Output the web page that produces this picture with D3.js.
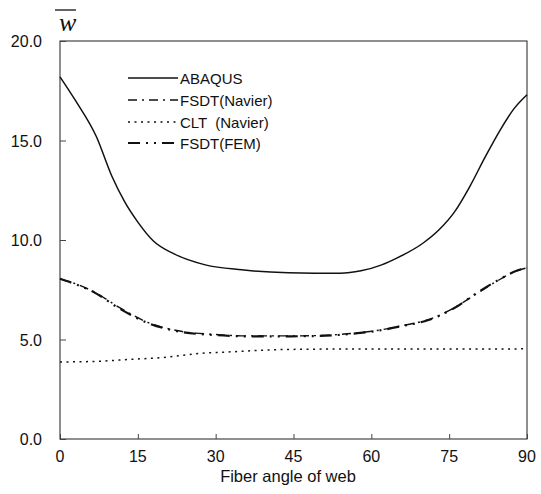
<html>
<head>
  <meta charset="utf-8">
  <title>Deflection vs fiber angle of web</title>
  <script type="text/javascript" src="https://d3js.org/d3.v7.min.js"></script>
</head>
<style type="text/css">
  html, body { margin:0; padding:0; background:#fff; overflow:hidden }
  text { font-family: "Liberation Sans", Arial, sans-serif; fill:#111; }
  text.wlabel { font-family: "Liberation Serif", "DejaVu Serif", serif; font-style: italic; }
</style>
<body>
  <svg width="541" height="494"></svg>
  <script>
    // values
    const angleTicks = [0, 15, 30, 45, 60, 75, 90];
    const wTicks = [0, 5, 10, 15, 20];

    const abaqusAngle = [0, 3, 7, 10, 12.5, 15, 18, 22, 28, 35, 44, 49, 54, 58, 62, 65, 70, 73, 76, 79, 82, 85, 87.5, 90];
    const abaqusW = [18.2, 17.0, 15.2, 13.2, 11.9, 10.9, 9.95, 9.3, 8.75, 8.5, 8.35, 8.33, 8.33, 8.45, 8.75, 9.1, 9.85, 10.5, 11.4, 12.7, 14.2, 15.6, 16.6, 17.3];

    const fsdtAngle = [0, 3, 6.5, 11.5, 17, 22.5, 30, 36.5, 43, 50, 56, 61, 66, 71, 76, 80, 84, 88, 90];
    const fsdtNavierW = [8.05, 7.8, 7.4, 6.6, 5.85, 5.45, 5.25, 5.18, 5.18, 5.2, 5.3, 5.45, 5.7, 6.0, 6.6, 7.25, 7.9, 8.45, 8.6];
    const fsdtFemW = [8.05, 7.78, 7.38, 6.55, 5.82, 5.42, 5.22, 5.16, 5.16, 5.18, 5.28, 5.43, 5.68, 5.98, 6.58, 7.28, 7.92, 8.45, 8.62];

    const cltAngle = [0, 7, 13.5, 20, 27, 33, 38, 44, 55, 70, 90];
    const cltW = [3.87, 3.9, 4.0, 4.1, 4.3, 4.38, 4.45, 4.5, 4.52, 4.52, 4.53];

    const legendNames = ["ABAQUS", "FSDT(Navier)", "CLT  (Navier)", "FSDT(FEM)"];

    const svg = d3.select("svg");
    const plotLeft = 60, plotRight = 527, plotTop = 41, plotBottom = 439;

    const x = d3.scaleLinear().domain([0, 90]).range([plotLeft, plotRight]);
    const y = d3.scaleLinear().domain([0, 20]).range([plotBottom, plotTop]);

    // frame
    svg.append("rect")
      .attr("x", plotLeft).attr("y", plotTop)
      .attr("width", plotRight - plotLeft).attr("height", plotBottom - plotTop)
      .attr("fill", "none").attr("stroke", "#333").attr("stroke-width", 1.1);

    // y axis (ticks inside)
    const yAxis = svg.append("g")
      .attr("transform", `translate(${plotLeft},0)`)
      .call(d3.axisRight(y).tickValues(wTicks).tickSize(6).tickFormat(""));
    yAxis.select(".domain").remove();
    yAxis.selectAll("line").attr("stroke", "#444");
    svg.append("g").selectAll("text")
      .data(wTicks)
      .enter()
      .append("text")
      .attr("x", 42)
      .attr("y", d => y(d) + 6)
      .attr("text-anchor", "end")
      .attr("font-size", 16)
      .text(d => d3.format(".1f")(d));

    // x axis (ticks inside)
    const xAxis = svg.append("g")
      .attr("transform", `translate(0,${plotBottom})`)
      .call(d3.axisTop(x).tickValues(angleTicks).tickSize(5).tickFormat(""));
    xAxis.select(".domain").remove();
    xAxis.selectAll("line").attr("stroke", "#444");
    svg.append("g").selectAll("text")
      .data(angleTicks)
      .enter()
      .append("text")
      .attr("x", d => x(d))
      .attr("y", 462)
      .attr("text-anchor", "middle")
      .attr("font-size", 16)
      .text(d => d);

    svg.append("text")
      .attr("x", 288).attr("y", 482)
      .attr("text-anchor", "middle")
      .attr("font-size", 16.5)
      .text("Fiber angle of web");

    // y label: w with overline
    svg.append("text")
      .attr("class", "wlabel")
      .attr("x", 59).attr("y", 31)
      .attr("font-size", 26)
      .text("w");
    svg.append("line")
      .attr("x1", 55).attr("x2", 76).attr("y1", 10).attr("y2", 10)
      .attr("stroke", "#111").attr("stroke-width", 1.3);

    const line = d3.line()
      .x(d => x(d[0]))
      .y(d => y(d[1]))
      .curve(d3.curveMonotoneX);

    const series = [
      { pts: d3.zip(abaqusAngle, abaqusW), dash: null, width: 1.5 },
      { pts: d3.zip(fsdtAngle, fsdtNavierW), dash: "9,5,2,5", width: 1.4 },
      { pts: d3.zip(cltAngle, cltW), dash: "2,4.5", width: 1.5 },
      { pts: d3.zip(fsdtAngle, fsdtFemW), dash: "12,6,2,6,2,6", width: 2.2 }
    ];

    svg.append("g").selectAll("path")
      .data(series)
      .enter()
      .append("path")
      .attr("d", d => line(d.pts))
      .attr("fill", "none")
      .attr("stroke", "#111")
      .attr("stroke-width", d => d.width)
      .attr("stroke-dasharray", d => d.dash);

    // legend
    const legendY = [78, 100, 122, 143];
    const legend = svg.append("g").selectAll("g")
      .data(series)
      .enter()
      .append("g")
      .attr("transform", (d, i) => `translate(128,${legendY[i]})`);
    legend.append("line")
      .attr("x1", 0).attr("x2", 50)
      .attr("stroke", "#111")
      .attr("stroke-width", d => d.width)
      .attr("stroke-dasharray", d => d.dash);
    legend.append("text")
      .attr("x", 52).attr("y", 5.5)
      .attr("font-size", 15)
      .style("white-space", "pre")
      .text((d, i) => legendNames[i]);
  </script>
</body>
</html>
